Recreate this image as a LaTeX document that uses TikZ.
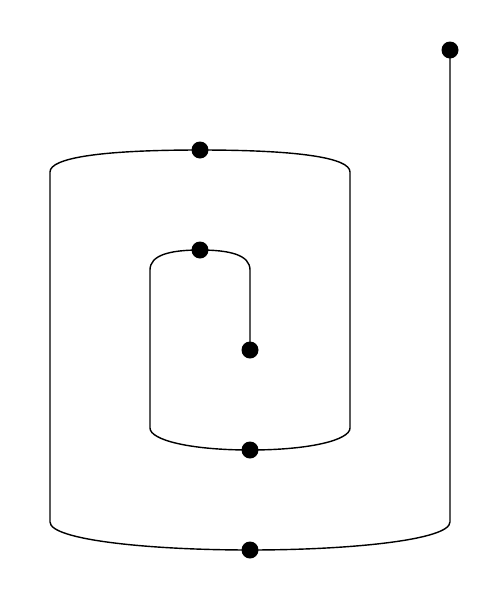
\documentclass[tikz,border=0pt]{standalone}
\tikzset{dot/.style={circle,fill=black,inner sep=0pt,minimum size=0.17cm}}
\begin{document}
\begin{tikzpicture}
 			\useasboundingbox (0,0) rectangle (5,-6);
 			\node[dot] (start) at (4.5,-0.5) {};
 			\node[dot] (outtop) at (2,-1.5) {};
 			\node[dot] (intop) at (2,-2.5) {};
 			\node[dot] (end) at (2.5,-3.5) {};
 			\node[dot] (inbot) at (2.5,-4.5) {};
 			\node[dot] (outbot) at (2.5,-5.5) {};
 			\draw (start.center) -- (4.5,-5.22) .. controls (4.5,-5.4) and (3.5,-5.5) .. (outbot.center);
 			\draw (outbot.center) .. controls (1.5,-5.5) and (0.5,-5.4) .. (0.5,-5.22) -- (0.5,-1.72) .. controls (0.5,-1.58) and (1,-1.5) .. (outtop.center);
 			\draw (outtop.center) .. controls (3,-1.5) and (3.5,-1.58) .. (3.5,-1.72) -- (3.5,-4.28) .. controls (3.5,-4.4) and (3.1,-4.5) .. (inbot.center);
 			\draw (inbot.center) .. controls (1.9,-4.5) and (1.5,-4.4) .. (1.5,-4.28) -- (1.5,-2.7) .. controls (1.5,-2.55) and (1.7,-2.5) .. (intop.center);
 			\draw (intop.center) .. controls (2.3,-2.5) and (2.5,-2.55) .. (2.5,-2.7) -- (end.center);
 		\end{tikzpicture}
\end{document}
